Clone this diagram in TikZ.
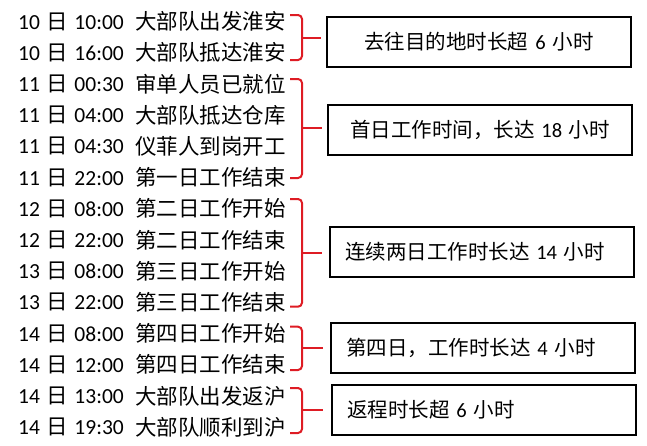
\documentclass[tikz,border=0pt]{standalone}
\usepackage{fontspec}
\setmainfont{Carlito}
\newfontfamily\cjk{Noto Sans CJK SC}
\usetikzlibrary{positioning}
\definecolor{bracered}{RGB}{222,28,36}

\begin{document}
\begin{tikzpicture}[x=1pt,y=-1pt,
    row/.style={anchor=west,inner sep=0pt,font=\fontsize{21.5}{24}\selectfont},
    note/.style={draw,line width=2.2pt,minimum width=304pt,minimum height=50pt,
      text width=274pt,inner xsep=15pt,font=\fontsize{20.5}{24}\selectfont},
    brace/.style={draw=bracered,line width=2pt,rounded corners=4pt}]
  \useasboundingbox (0,0) rectangle (647,445);

  % time table
  \foreach \i/\dday/\tm/\ev in {1/10/10:00/大部队出发淮安, 2/10/16:00/大部队抵达淮安,
      3/11/00:30/审单人员已就位, 4/11/04:00/大部队抵达仓库, 5/11/04:30/仪菲人到岗开工,
      6/11/22:00/第一日工作结束, 7/12/08:00/第二日工作开始, 8/12/22:00/第二日工作结束,
      9/13/08:00/第三日工作开始, 10/13/22:00/第三日工作结束, 11/14/08:00/第四日工作开始,
      12/14/12:00/第四日工作结束, 13/14/13:00/大部队出发返沪, 14/14/19:30/大部队顺利到沪}{
    \node[row] (date\i) at (18,{21.5+31.2*(\i-1)}) {\dday\hspace{6.5pt}{\cjk 日}\hspace{6.5pt}\tm};
    \node[row] (event\i) at (135,{21.5+31.2*(\i-1)}) {\cjk \ev};
  }

  % notes
  \node[note,align=center] (trip) at (479,41.7) {{\cjk 去往目的地时长超} 6 {\cjk 小时}};
  \node[note,align=center] (first) at (480,130) {{\cjk 首日工作时间，长达} 18 {\cjk 小时}};
  \node[note,align=left] (middle) at (482,251.7) {{\cjk 连续两日工作时长达} 14 {\cjk 小时}};
  \node[note,align=left] (fourth) at (483,348) {{\cjk 第四日，工作时长达} 4 {\cjk 小时}};
  \node[note,align=left] (back) at (484,410) {{\cjk 返程时长超} 6 {\cjk 小时}};

  % braces
  \draw[brace] (290,15) -- (302,15) -- (302,60) -- (290,60);
  \draw[brace] (302,38) -- ([xshift=-5pt]trip.west |- 0,38);
  \draw[brace] (290,79) -- (302,79) -- (302,178) -- (290,178);
  \draw[brace] (302,128) -- ([xshift=-5pt]first.west |- 0,128);
  \draw[brace] (290,199) -- (302,199) -- (302,306.7) -- (290,306.7);
  \draw[brace] (302,253) -- ([xshift=-7pt]middle.west |- 0,253);
  \draw[brace] (290,326.7) -- (302,326.7) -- (302,370) -- (290,370);
  \draw[brace] (302,348) -- ([xshift=-7pt]fourth.west |- 0,348);
  \draw[brace] (290,388) -- (302,388) -- (302,433) -- (290,433);
  \draw[brace] (302,410) -- ([xshift=-8pt]back.west |- 0,410);
\end{tikzpicture}
\end{document}
